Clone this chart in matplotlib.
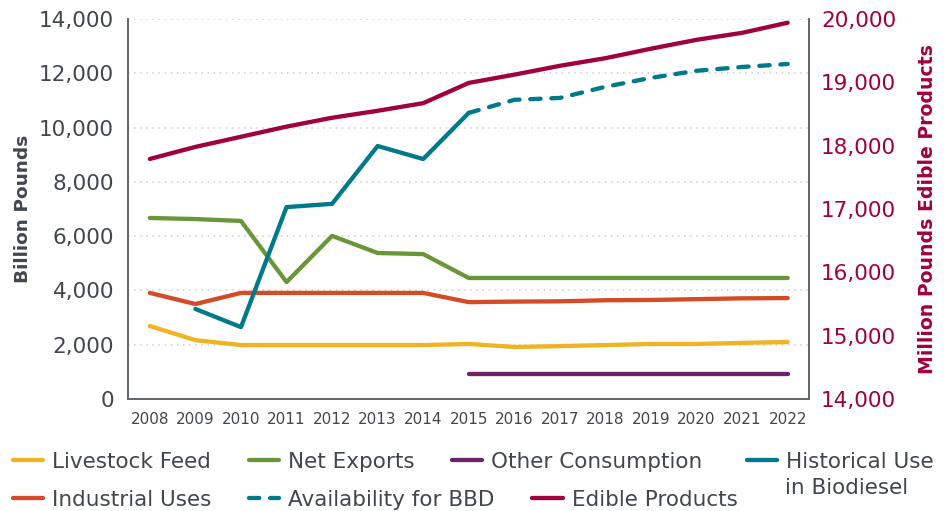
import matplotlib
matplotlib.use("Agg")
import matplotlib.pyplot as plt
from matplotlib.ticker import FuncFormatter, MultipleLocator

plt.rcParams['font.family'] = ['DejaVu Sans']

years = list(range(2008, 2023))
livestock_feed = [2690, 2170, 1990, 1990, 1990, 1990, 1990, 2030, 1920, 1950, 1990, 2030, 2030, 2070, 2100]
net_exports = [6670, 6630, 6560, 4310, 6010, 5380, 5340, 4460, 4460, 4460, 4460, 4460, 4460, 4460, 4460]
industrial_uses = [3910, 3500, 3910, 3910, 3910, 3910, 3910, 3570, 3590, 3600, 3640, 3650, 3680, 3710, 3720]
other_years = list(range(2015, 2023))
other_consumption = [920, 920, 920, 920, 920, 920, 920, 920]
hist_years = list(range(2009, 2016))
historical_biodiesel = [3320, 2650, 7070, 7190, 9320, 8840, 10540]
bbd_years = list(range(2015, 2023))
availability_bbd = [10540, 11020, 11090, 11500, 11830, 12090, 12230, 12340]
edible_products = [17790, 17980, 18140, 18300, 18440, 18550, 18670, 18990,
                   19120, 19260, 19380, 19530, 19670, 19780, 19940]

C_YEL = '#F0B323'
C_GRN = '#6A963A'
C_PUR = '#6B2566'
C_TEAL = '#007A8A'
C_RED = '#D54B27'
C_CRIM = '#A0003F'
TXT = '#41474C'
SPINE = '#5F6569'

fig = plt.figure(figsize=(9.48, 5.11), dpi=100)
ax = fig.add_axes([0.135, 0.219, 0.718, 0.744])
ax2 = ax.twinx()

lw = 3.1
l1, = ax.plot(years, livestock_feed, color=C_YEL, lw=lw, solid_capstyle='round', label='Livestock Feed')
l2, = ax.plot(years, net_exports, color=C_GRN, lw=lw, solid_capstyle='round', label='Net Exports')
l3, = ax.plot(other_years, other_consumption, color=C_PUR, lw=lw, solid_capstyle='round', label='Other Consumption')
l5, = ax.plot(years, industrial_uses, color=C_RED, lw=lw, solid_capstyle='round', label='Industrial Uses')
l6, = ax.plot(bbd_years, availability_bbd, color=C_TEAL, lw=lw, dashes=(2.4, 2.5),
              dash_capstyle='round', label='Availability for BBD')
l4, = ax.plot(hist_years, historical_biodiesel, color=C_TEAL, lw=lw, solid_capstyle='round',
              label='Historical Use')
l7, = ax2.plot(years, edible_products, color=C_CRIM, lw=lw, solid_capstyle='round', label='Edible Products')

ax.set_xlim(2007.52, 2022.46)
ax.set_ylim(0, 14000)
ax2.set_ylim(14000, 20000)
ax.yaxis.set_major_locator(MultipleLocator(2000))
ax2.yaxis.set_major_locator(MultipleLocator(1000))
ax.set_xticks(years)
fmt = FuncFormatter(lambda v, p: f'{int(v):,}')
ax.yaxis.set_major_formatter(fmt)
ax2.yaxis.set_major_formatter(fmt)

ax.grid(axis='y', color='#CDCDCD', linestyle=(0, (1, 3)), lw=1.1)
ax.set_axisbelow(True)

for a in (ax, ax2):
    a.spines['top'].set_visible(False)
    for s in ('left', 'bottom', 'right'):
        a.spines[s].set_color(SPINE)
        a.spines[s].set_linewidth(1.2)
    a.tick_params(length=0)

ax.tick_params(axis='y', labelsize=15.5, colors=TXT, pad=10)
ax.tick_params(axis='x', labelsize=11, colors=TXT, pad=9)
ax2.tick_params(axis='y', labelsize=15.5, colors=C_CRIM, pad=9)

ax.set_ylabel('Billion Pounds', fontsize=13.3, fontweight='bold', color=TXT)
ax2.set_ylabel('Million Pounds Edible Products', fontsize=13.6, fontweight='bold', color=C_CRIM)
ax.yaxis.set_label_coords(-0.141, 0.5)
ax2.yaxis.set_label_coords(1.160, 0.5)

common = dict(frameon=False, fontsize=15.5, handlelength=1.4, handletextpad=0.42,
              columnspacing=1.75, borderaxespad=0, borderpad=0, loc='center left')
row1 = [l1, l2, l3]
row2 = [l5, l6, l7]
leg1 = fig.legend(handles=row1, labels=[h.get_label() for h in row1], ncol=3,
                  bbox_to_anchor=(0.0137, 1 - 462 / 511), **common)
leg2 = fig.legend(handles=row2, labels=[h.get_label() for h in row2], ncol=3,
                  bbox_to_anchor=(0.0137, 1 - 500 / 511), **common)
leg3 = fig.legend(handles=[l4], labels=[l4.get_label()], ncol=1,
                  bbox_to_anchor=(747 / 948, 1 - 462 / 511), **common)
for lg in (leg1, leg2, leg3):
    for t in lg.get_texts():
        t.set_color(TXT)
fig.text(785 / 948, 1 - 488 / 511, 'in Biodiesel', fontsize=15.5, color=TXT,
         ha='left', va='center')

fig.savefig('out.png', dpi=100)
